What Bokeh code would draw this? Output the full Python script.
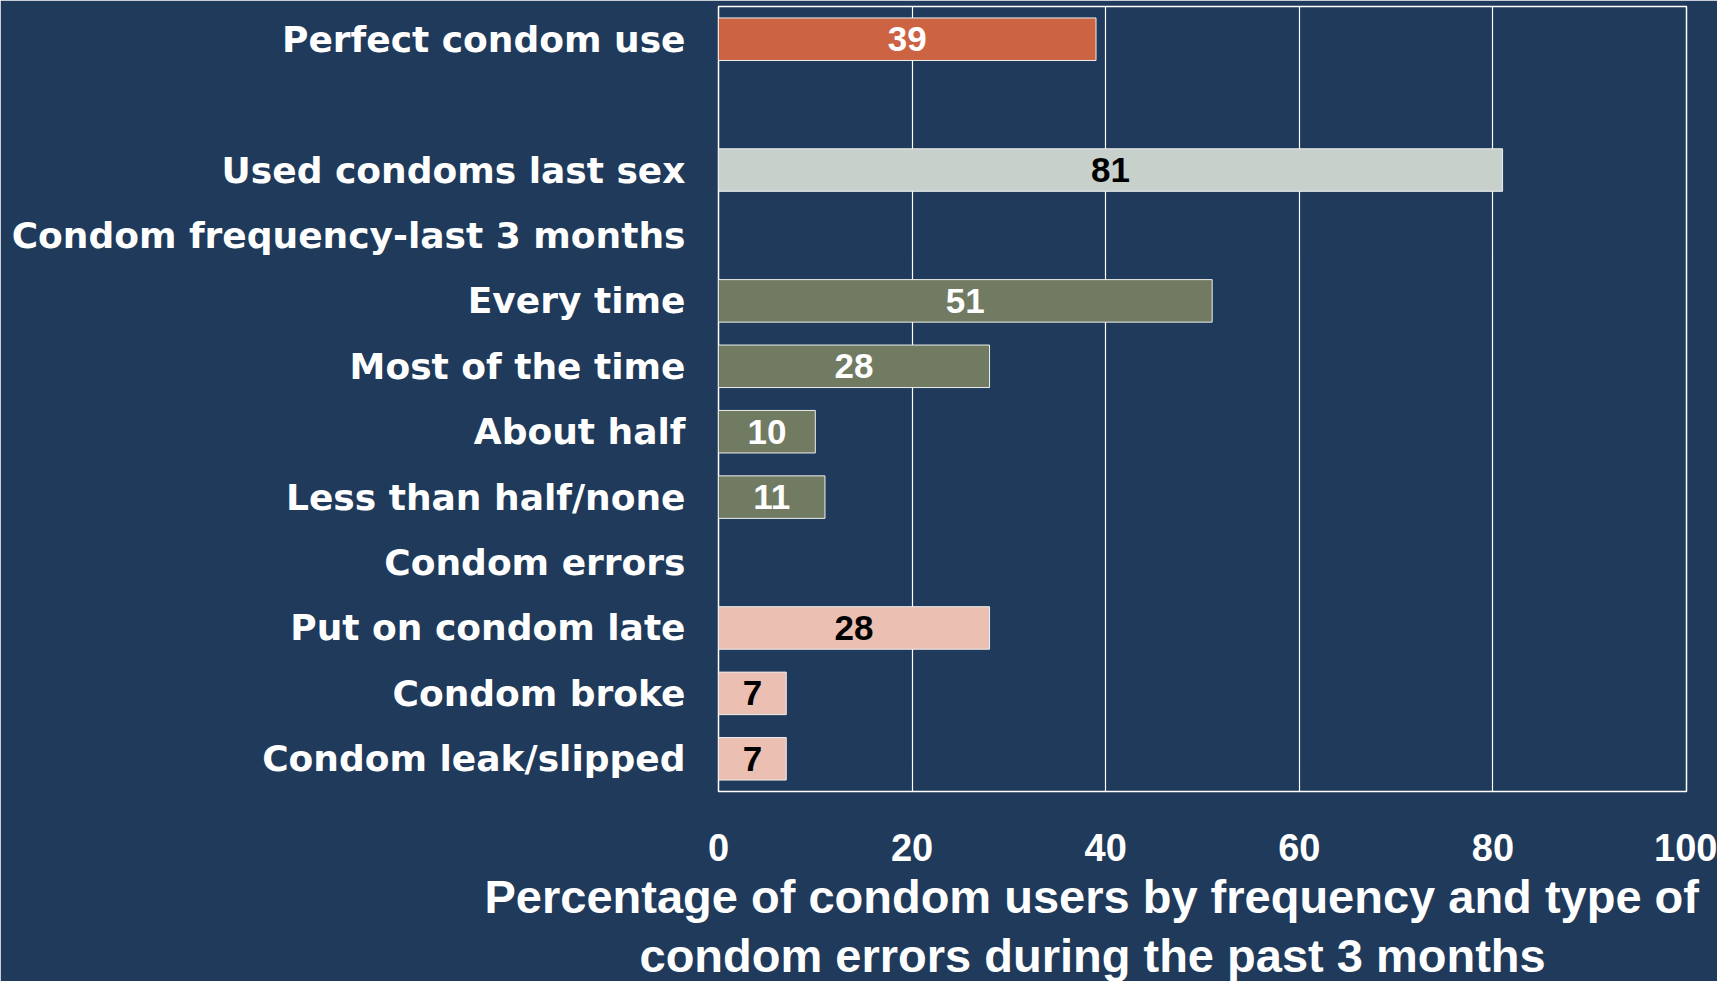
from bokeh.plotting import figure
from bokeh.models import ColumnDataSource, FactorRange, Range1d, FixedTicker, LabelSet, Title
from bokeh.core.properties import value
from bokeh.embed import file_html
from bokeh.resources import INLINE

# ---- data ----
categories = ["Perfect condom use", " ", "Used condoms last sex",
              "Condom frequency-last 3 months", "Every time", "Most of the time",
              "About half", "Less than half/none", "Condom errors",
              "Put on condom late", "Condom broke", "Condom leak/slipped"]
bar_categories = ["Perfect condom use", "Used condoms last sex", "Every time",
                  "Most of the time", "About half", "Less than half/none",
                  "Put on condom late", "Condom broke", "Condom leak/slipped"]
values = [39, 81, 51, 28, 10, 11, 28, 7, 7]
bar_colors = ["#CC6443", "#C8D0CB", "#717B62", "#717B62", "#717B62", "#717B62",
              "#EBBFB2", "#EBBFB2", "#EBBFB2"]
label_colors = ["white", "black", "white", "white", "white", "white",
                "black", "black", "black"]
x_ticks = [0, 20, 40, 60, 80, 100]
title_lines = ["Percentage of condom users by frequency and type of",
               "condom errors during the past 3 months"]

BG = "#1F3A5A"
FONT = "Liberation Sans"

src = ColumnDataSource(dict(
    cat=bar_categories, val=values, color=bar_colors,
    lcolor=label_colors, mid=[v / 2 for v in values],
    txt=[str(v) for v in values],
))

p = figure(
    y_range=FactorRange(factors=list(reversed(categories))),
    x_range=Range1d(0, 100),
    frame_width=968, frame_height=785,
    min_border_left=718, min_border_right=31,
    min_border_top=6, min_border_bottom=190,
    output_backend="svg", toolbar_location=None,
    background_fill_color=BG, border_fill_color=BG,
)
p.outline_line_color = "white"
p.outline_line_width = 1.5

p.hbar(y="cat", right="val", left=0, height=0.65, source=src,
       fill_color="color", line_color="#EEEEEE", line_width=1)

labels = LabelSet(x="mid", y="cat", text="txt", source=src,
                  text_color="lcolor", text_align="center",
                  text_baseline="middle", text_font=value(FONT),
                  text_font_size=value("35px"), text_font_style=value("bold"))
p.add_layout(labels)

# grid
p.ygrid.grid_line_color = None
p.xgrid.grid_line_color = "white"
p.xgrid.grid_line_width = 1.2
p.xaxis.ticker = FixedTicker(ticks=x_ticks)
p.xgrid.ticker = FixedTicker(ticks=x_ticks)

# axes
for ax in (p.xaxis, p.yaxis):
    ax.axis_line_color = None
    ax.major_tick_line_color = None
    ax.minor_tick_line_color = None
    ax.major_label_text_color = "white"
    ax.major_label_text_font_style = "bold"
p.xaxis.major_label_text_font = FONT
p.xaxis.major_label_text_font_size = "38px"
p.yaxis.major_label_text_font = "DejaVu Sans"
p.yaxis.major_label_text_font_size = "36px"
p.xaxis.major_label_standoff = 36
p.yaxis.major_label_standoff = 27

# caption below the axis, two centred lines
offsets = [-234, -79]
standoffs = [8, 0]
for line, off, so in zip(title_lines, offsets, standoffs):
    p.add_layout(Title(
        text=line, align="left", offset=off, standoff=so,
        text_color="white", text_font=FONT, text_font_style="bold",
        text_font_size="47px",
    ), "below")

open("out.html", "w").write(file_html(p, INLINE))
